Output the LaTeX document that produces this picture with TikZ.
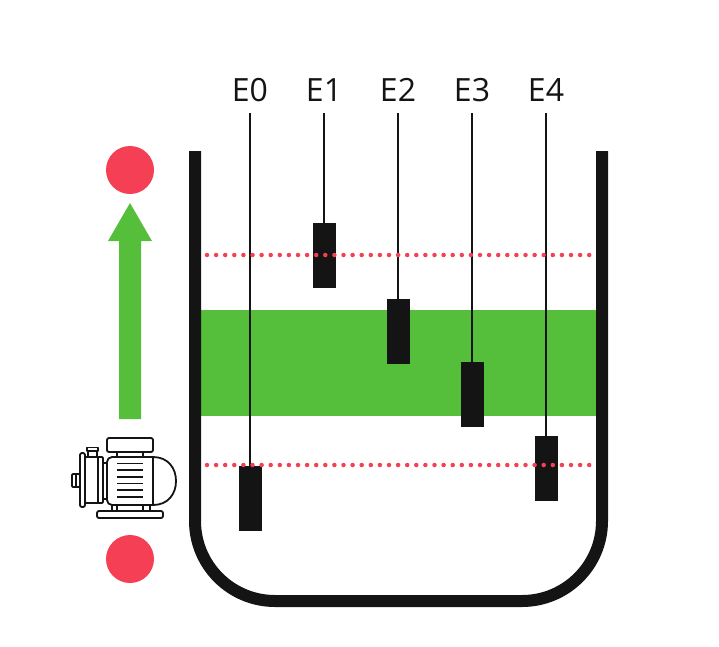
\documentclass[tikz,border=0pt]{standalone}
\usepackage{fontspec}
\setmainfont{Open Sans}
\definecolor{tankblack}{HTML}{141414}
\definecolor{bandgreen}{HTML}{55BF3B}
\definecolor{alarmred}{HTML}{F43F54}
\tikzset{
  probelabel/.style={font=\fontsize{32}{32}\selectfont, text=tankblack, inner sep=0pt},
  probebody/.style={fill=tankblack, minimum width=23, minimum height=65, inner sep=0pt, outer sep=0pt},
  levelline/.style={alarmred, line width=4.5, line cap=round, dash pattern=on 0pt off 9.1},
  alarmdot/.style={circle, fill=alarmred, minimum size=48, inner sep=0pt},
  pumpline/.style={tankblack, line width=1.8, line join=round},
}
\begin{document}
\begin{tikzpicture}[x=1pt, y=-1pt]
  \useasboundingbox (0,0) rectangle (719,646);
  \fill[bandgreen] (201,310) rectangle (596,416);
  % tank wall
  \draw[tankblack, line width=12] (195,151) -- (195,521) arc[start angle=180, end angle=90, radius=80]
    -- (522,601) arc[start angle=90, end angle=0, radius=80] -- (602,151);
  % probes hang from their labels, each one at its own depth
  \foreach \n/\x/\y in {0/250/498.5, 1/324/255.5, 2/398/331.5, 3/472/394.5, 4/546/468} {
    \node[probelabel] (label\n) at (\x,90) {E\n};
    \node[probebody] (probe\n) at (\x,\y) {};
    \coordinate (top\n) at (\x,113);
    \draw[tankblack, line width=2] (top\n) -- (probe\n.north);
  }
  \draw[levelline] (207,255) -- (594,255);
  \draw[levelline] (207,465) -- (594,465);
  \node[alarmdot] (high) at (130,170) {};
  \node[alarmdot] (low) at (130,559) {};
  \fill[bandgreen] (119,419) -- (119,241) -- (108,241) -- (130,203) -- (152,241) -- (141,241) -- (141,419) -- cycle;
  % pump
  \draw[pumpline, rounded corners=2] (107,438) rectangle (153,452);
  \draw[pumpline] (117,452) -- (117,457) (143,452) -- (143,457);
  \draw[pumpline, rounded corners=5] (153,457) -- (107,457) -- (107,505) -- (153,505);
  \draw[pumpline] (153,457) .. controls (168,457) and (176,468) .. (176,481) .. controls (176,494) and (168,505) .. (153,505) -- cycle;
  \foreach \y in {463.5,470,477,483.5,490,497}
    \draw[pumpline] (117,\y) -- (143,\y);
  \draw[pumpline, rounded corners=1] (85,457) rectangle (103,503);
  \draw[pumpline] (98,458) -- (98,502) (103,463) -- (107,463) (103,499) -- (107,499);
  \draw[pumpline, rounded corners=2] (80,453) rectangle (85,507);
  \draw[pumpline, rounded corners=1] (72,474) rectangle (80,487);
  \draw[pumpline] (76,474) -- (76,487);
  \draw[pumpline] (88,451) rectangle (97,457);
  \draw[pumpline] (87,447.5) rectangle (98,451);
  \draw[pumpline] (112,505) -- (112,511) (117,505) -- (117,511) (143,505) -- (143,511) (150,505) -- (150,511);
  \draw[pumpline, rounded corners=2] (97,511) rectangle (163,518);
\end{tikzpicture}
\end{document}
